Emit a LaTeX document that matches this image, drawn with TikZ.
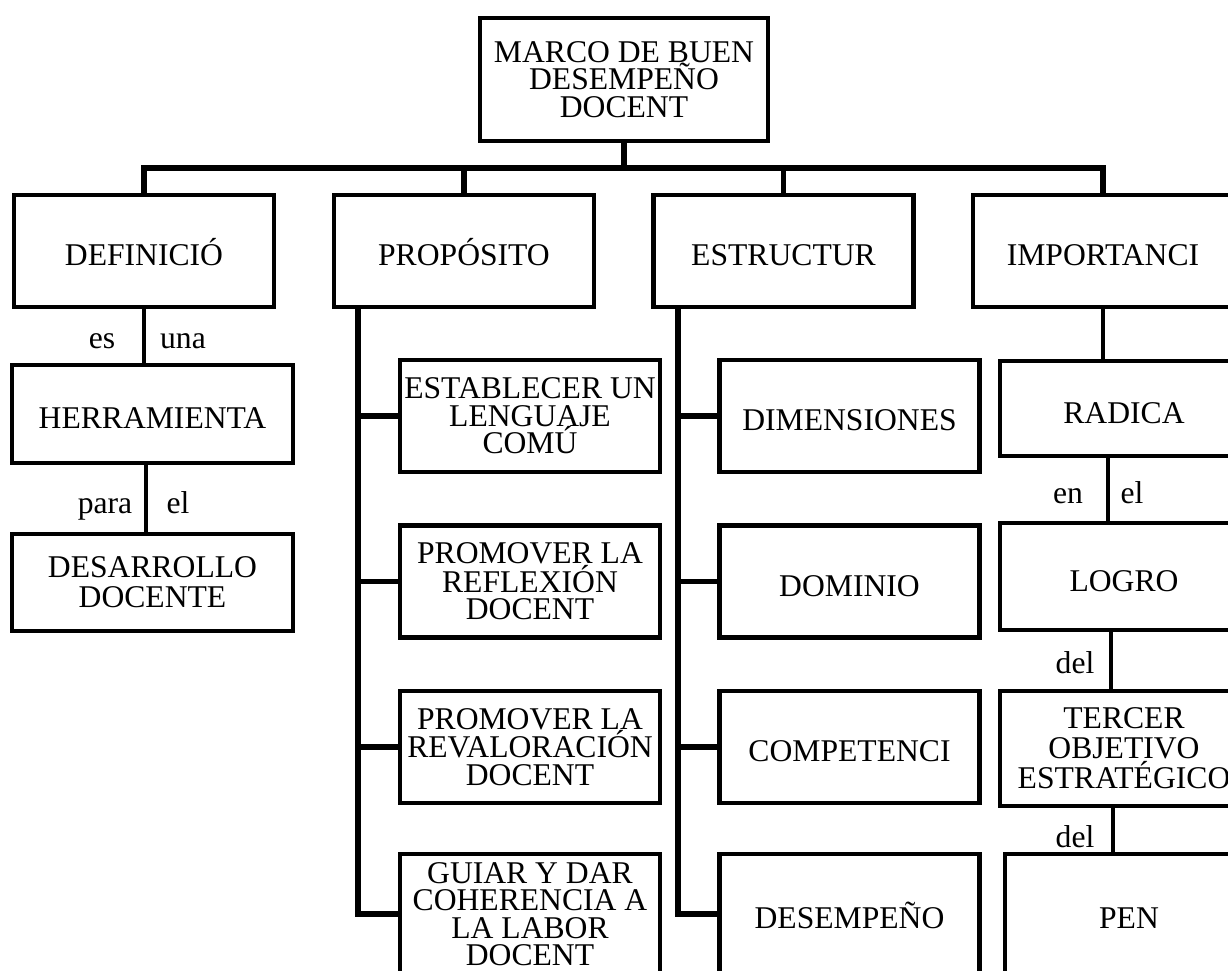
\documentclass[tikz,border=0pt]{standalone}
\usepackage{fontspec}
\setmainfont{Liberation Serif}
\usetikzlibrary{positioning}
\tikzset{
box/.style={draw, line width=3.8pt, align=center, inner sep=0pt,
  minimum width=7.8cm, minimum height=3.36cm, font=\fontsize{27}{23.5}\selectfont},
onebox/.style={box, text height=25pt, text depth=0pt},
tallbox/.style={box, font=\fontsize{27}{25.5}\selectfont},
conn/.style={line width=4.3pt},
link/.style={line width=3.2pt},
lbl/.style={anchor=base, inner sep=0pt, font=\fontsize{27}{23.5}\selectfont}
      }

\begin{document}
\begin{tikzpicture}[x=0.03cm, y=-0.03cm]
                \path[use as bounding box, fill=white] (0,0) rectangle (1228,970);
                \clip (0,0) rectangle (1228,970);
                % titulo y primer nivel
                \node[box, minimum width=8.64cm, minimum height=3.69cm] (root) at (624,79.5) {MARCO DE BUEN\\DESEMPEÑO\\DOCENT};
                \node[onebox] (def) at (144,251) {DEFINICIÓ};
                \node[onebox] (prop) at (464,251) {PROPÓSITO};
                \node[onebox] (estr) at (783.5,251) {ESTRUCTUR};
                \node[onebox] (imp) at (1103,251) {IMPORTANCI};
                \coordinate (bar) at (624,168);
                \foreach \n in {def,prop,estr,imp}
                    \draw[conn] (root.south) -- (bar) -| (\n.north);
                % definicion
                \node[onebox, minimum width=8.43cm, minimum height=2.94cm] (herr) at (152.5,414) {HERRAMIENTA};
                \node[tallbox, minimum width=8.43cm, minimum height=2.91cm] (desa) at (152.5,582.5) {DESARROLLO\\DOCENTE};
                \coordinate (hx) at (146,0);
                \draw[link] (def.south) -- (def.south |- herr.north);
                \draw[link] (herr.south -| hx) -- (desa.north -| hx);
                \node[lbl] (es) at (102,348) {es};
                \node[lbl] (una) at (183,348) {una};
                \node[lbl] (para) at (105,513) {para};
                \node[lbl] (el1) at (178,513) {el};
                % proposito
                \node[box] (p1) at (530,416) {ESTABLECER UN\\LENGUAJE\\COMÚ};
                \node[box] (p2) at (530,581.5) {PROMOVER LA\\REFLEXIÓN\\DOCENT};
                \node[box] (p3) at (530,747) {PROMOVER LA\\REVALORACIÓN\\DOCENT};
                \node[box, minimum height=3.6cm] (p4) at (530,914) {GUIAR Y DAR\\COHERENCIA A\\LA LABOR\\DOCENT};
                \coordinate (pspine) at (358,0);
                \draw[conn] (pspine |- prop.south) |- (p4.west);
                \foreach \n in {p1,p2,p3}
                    \draw[conn] (\n.west -| pspine) -- (\n.west);
                % estructura
                \node[onebox] (e1) at (849.5,416) {DIMENSIONES};
                \node[onebox] (e2) at (849.5,581.5) {DOMINIO};
                \node[onebox] (e3) at (849.5,747) {COMPETENCI};
                \node[onebox, minimum height=3.6cm] (e4) at (849.5,914) {DESEMPEÑO};
                \coordinate (espine) at (678,0);
                \draw[conn] (espine |- estr.south) |- (e4.west);
                \foreach \n in {e1,e2,e3}
                    \draw[conn] (\n.west -| espine) -- (\n.west);
                % importancia
                \node[onebox, minimum width=7.44cm, minimum height=2.85cm] (rad) at (1124,408.5) {RADICA};
                \node[onebox, minimum width=7.44cm, minimum height=3.21cm] (logro) at (1124,576.5) {LOGRO};
                \node[tallbox, minimum width=7.44cm, minimum height=3.45cm] (terc) at (1124,748.5) {TERCER\\OBJETIVO\\ESTRATÉGICO};
                \node[onebox, minimum width=7.44cm, minimum height=3.6cm] (pen) at (1129,914) {PEN};
                \coordinate (r1) at (1108,0);
                \coordinate (r2) at (1111,0);
                \coordinate (r3) at (1113,0);
                \draw[link] (imp.south) -- (imp.south |- rad.north);
                \draw[link] (rad.south -| r1) -- (logro.north -| r1);
                \draw[link] (logro.south -| r2) -- (terc.north -| r2);
                \draw[link] (terc.south -| r3) -- (pen.north -| r3);
                \node[lbl] (en) at (1068,503) {en};
                \node[lbl] (el2) at (1132,503) {el};
                \node[lbl] (del1) at (1075,673) {del};
                \node[lbl] (del2) at (1075,847) {del};
            \end{tikzpicture}
\end{document}
